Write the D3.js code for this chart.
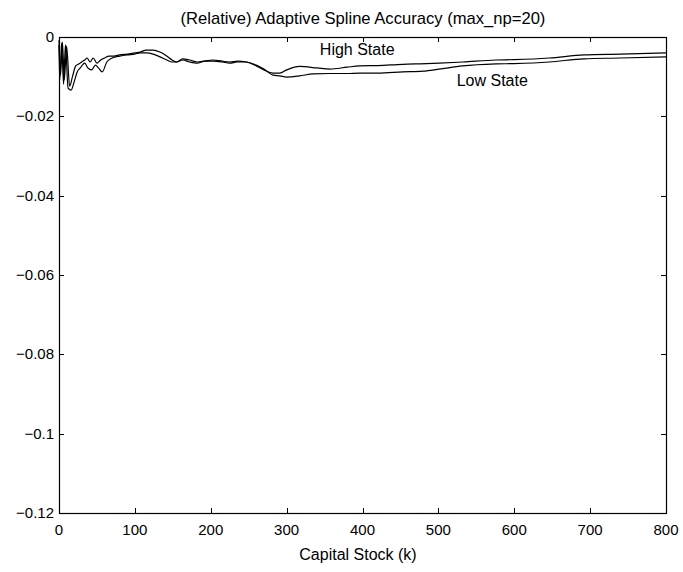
<!DOCTYPE html>
<html><head><meta charset="utf-8">
<script src="https://cdn.jsdelivr.net/npm/d3@7"></script>
<style>body{margin:0;background:#fff}svg{display:block}text{font-family:"Liberation Sans",Arial,sans-serif;fill:#000}</style>
</head><body>
<script>
const title = "(Relative) Adaptive Spline Accuracy (max_np=20)";
const xLabel = "Capital Stock (k)";
const xTicks = [0,100,200,300,400,500,600,700,800];
const yTicks = [0,-0.02,-0.04,-0.06,-0.08,-0.1,-0.12];
const yTickLabels = ["0","\u22120.02","\u22120.04","\u22120.06","\u22120.08","\u22120.1","\u22120.12"];

const highK = [0,2,4.5,7,10,14,18,22,26,30,34,37,41,45,50,55,60,66,72,80,90,100,107,115,124,133,142,149,155,163,172,182,192,203,215,225,235,247,260,270,282,291,300,317,340,357,380,396,420,453,470,501,532,576,600,646,692,740,800];
const highVals = [-0.0008,-0.0096,-0.0013,-0.0108,-0.0023,-0.0124,-0.0098,-0.0073,-0.0068,-0.0063,-0.0058,-0.0053,-0.0063,-0.0053,-0.0066,-0.0058,-0.0053,-0.0048,-0.0048,-0.0045,-0.0043,-0.0040,-0.0038,-0.0033,-0.0033,-0.0038,-0.0048,-0.0058,-0.0063,-0.0055,-0.0058,-0.0063,-0.0061,-0.0058,-0.0061,-0.0063,-0.0061,-0.0063,-0.0073,-0.0083,-0.0091,-0.0091,-0.0083,-0.0074,-0.0078,-0.0081,-0.0076,-0.0073,-0.0072,-0.0069,-0.0068,-0.0066,-0.0063,-0.0058,-0.0057,-0.0053,-0.0045,-0.0043,-0.0040];

const lowK = [0,1,3.5,6,8.5,12,16,20,24,28,34,38,43,48,52,57,63,70,80,90,100,107,115,124,133,142,149,155,163,172,182,192,203,215,225,235,247,260,270,282,291,300,317,335,357,380,396,420,453,480,501,532,576,600,646,692,740,800];
const lowVals = [-0.0020,-0.0108,-0.0015,-0.0119,-0.0020,-0.0129,-0.0134,-0.0113,-0.0088,-0.0078,-0.0066,-0.0078,-0.0083,-0.0071,-0.0078,-0.0088,-0.0063,-0.0053,-0.0048,-0.0045,-0.0043,-0.0040,-0.0040,-0.0043,-0.0050,-0.0058,-0.0063,-0.0063,-0.0058,-0.0063,-0.0066,-0.0061,-0.0061,-0.0063,-0.0066,-0.0063,-0.0063,-0.0071,-0.0081,-0.0096,-0.0098,-0.0101,-0.0098,-0.0093,-0.0092,-0.0092,-0.0091,-0.0091,-0.0088,-0.0086,-0.0081,-0.0073,-0.0068,-0.0067,-0.0063,-0.0055,-0.0053,-0.0050];

const labels = [{text:"High State", k:393, v:-0.0033},{text:"Low State", k:571, v:-0.0111}];

const W=683,H=572, L=59, R=666, T=37, B=513;
const svg = d3.select("body").append("svg").attr("width",W).attr("height",H);
const x = d3.scaleLinear().domain([0,800]).range([L,R]);
const y = d3.scaleLinear().domain([-0.12,0]).range([B,T]);

svg.append("rect").attr("x",L+0.5).attr("y",T+0.5).attr("width",R-L).attr("height",B-T)
  .attr("fill","none").attr("stroke","#000").attr("stroke-width",1.2);

const tl = 5;
const g = svg.append("g").attr("stroke","#000").attr("stroke-width",1);
xTicks.forEach(t=>{
  const px = Math.round(x(t))+0.5;
  g.append("line").attr("x1",px).attr("x2",px).attr("y1",B).attr("y2",B-tl);
  g.append("line").attr("x1",px).attr("x2",px).attr("y1",T).attr("y2",T+tl);
});
yTicks.forEach(t=>{
  const py = Math.round(y(t))+0.5;
  g.append("line").attr("x1",L).attr("x2",L+tl).attr("y1",py).attr("y2",py);
  g.append("line").attr("x1",R).attr("x2",R-tl).attr("y1",py).attr("y2",py);
});

svg.selectAll(".xt").data(xTicks).enter().append("text")
  .attr("x",d=>x(d)).attr("y",B+22).attr("text-anchor","middle")
  .attr("font-size",15).text(d=>d);
svg.selectAll(".yt").data(yTicks).enter().append("text")
  .attr("x",L-5).attr("y",d=>y(d)+5).attr("text-anchor","end")
  .attr("font-size",15).text((d,i)=>yTickLabels[i]);

svg.append("text").attr("x",363).attr("y",24).attr("text-anchor","middle")
  .attr("font-size",16.6).text(title);
svg.append("text").attr("x",358).attr("y",560).attr("text-anchor","middle")
  .attr("font-size",16).text(xLabel);

const line = d3.line().x(d=>x(d[0])).y(d=>y(d[1])).curve(d3.curveMonotoneX);
const series = [d3.zip(highK,highVals), d3.zip(lowK,lowVals)];
svg.selectAll(".ln").data(series).enter().append("path")
  .attr("d",line).attr("fill","none").attr("stroke","#000").attr("stroke-width",1.2);

svg.selectAll(".lb").data(labels).enter().append("text")
  .attr("x",d=>x(d.k)).attr("y",d=>y(d.v)+5).attr("text-anchor","middle")
  .attr("font-size",16).text(d=>d.text);
</script>
</body></html>
